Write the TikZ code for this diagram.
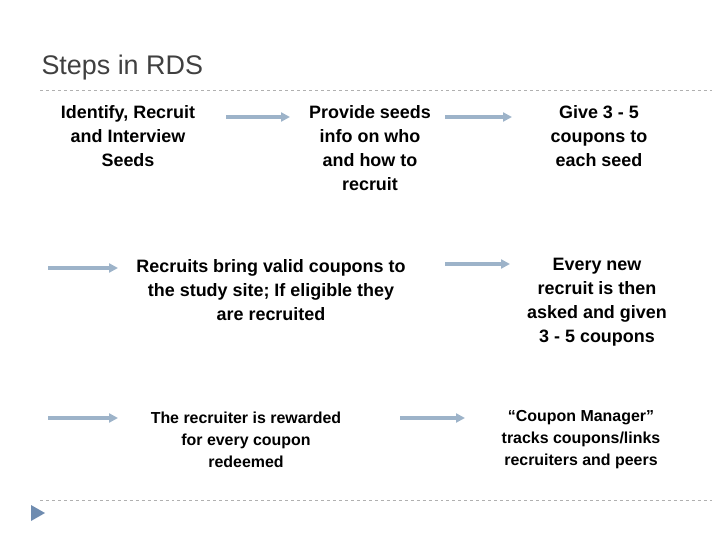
\documentclass[tikz,border=0pt]{standalone}
\usepackage{fontspec}
\setmainfont{Liberation Sans}
\usetikzlibrary{arrows.meta}
\definecolor{arrowblue}{HTML}{9DB3C9}
\definecolor{rulegray}{HTML}{B0B0B0}
\definecolor{markblue}{HTML}{6F8CB0}
\begin{document}
\begin{tikzpicture}[x=1bp, y=-1bp,
  stage/.style={align=center, font=\bfseries\fontsize{18}{24}\selectfont},
  small stage/.style={align=center, font=\bfseries\fontsize{16}{22}\selectfont},
  flow/.style={-{Triangle[length=9bp,width=9bp]}, line width=3.5bp, arrowblue}]
\useasboundingbox (0,0) rectangle (720,540);
\node [anchor=west, font=\fontsize{27}{32}\selectfont, text=black!75] (title) at (38,68) {Steps in RDS};
\draw [rulegray, dashed] (40,90) -- (715,90);
\draw [rulegray, dashed] (40,500) -- (715,500);
\fill [markblue] (31,505) -- (45,513) -- (31,521) -- cycle;

\node [stage] (s1) at (128,136) {Identify, Recruit\\and Interview\\Seeds};
\node [stage] (s2) at (370,148) {Provide seeds\\info on who\\and how to\\recruit};
\node [stage] (s3) at (599,136) {Give 3 - 5\\coupons to\\each seed};
\node [stage] (s4) at (271,290) {Recruits bring valid coupons to\\the study site; If eligible they\\are recruited};
\node [stage] (s5) at (597,302) {Every new\\recruit is then\\asked and given\\3 - 5 coupons};
\node [small stage] (s6) at (246,440) {The recruiter is rewarded\\for every coupon\\redeemed};
\node [small stage] (s7) at (581,440) {“Coupon Manager”\\tracks coupons/links\\recruiters and peers};

% arrow ends
\coordinate (a1) at (226,117); \coordinate (a2) at (290,117);
\coordinate (a3) at (445,117); \coordinate (a4) at (512,117);
\coordinate (b1) at (48,268);  \coordinate (b2) at (118,268);
\coordinate (b3) at (445,264); \coordinate (b4) at (510,264);
\coordinate (c1) at (48,418);  \coordinate (c2) at (118,418);
\coordinate (c3) at (400,418); \coordinate (c4) at (465,418);
\foreach \p/\q in {a1/a2, a3/a4, b1/b2, b3/b4, c1/c2, c3/c4}
  \draw [flow] (\p) -- (\q);
\end{tikzpicture}
\end{document}
